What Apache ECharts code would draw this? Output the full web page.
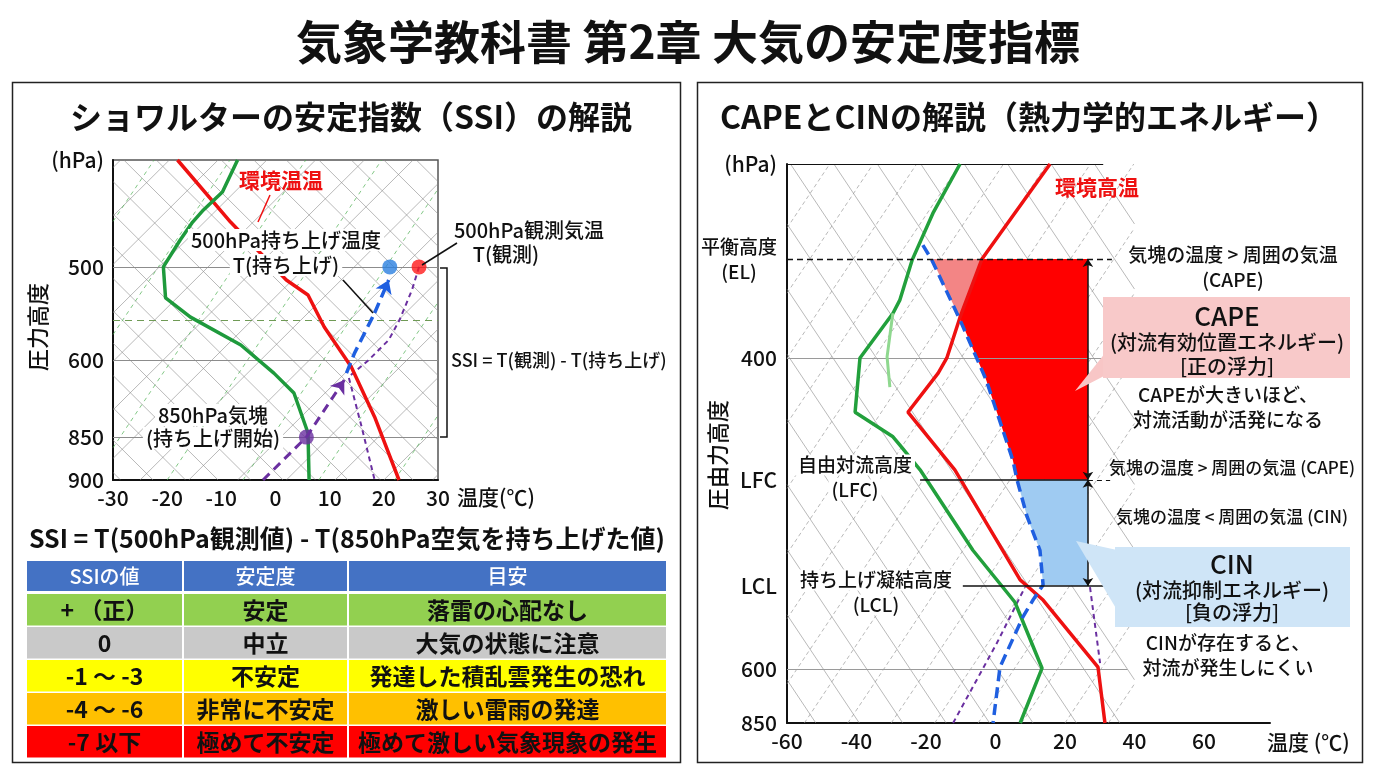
<!DOCTYPE html>
<html>
<head>
<meta charset="utf-8">
<title>大気の安定度指標</title>
<script src="https://cdn.jsdelivr.net/npm/echarts@6.0.0/dist/echarts.min.js"></script>
<style>
  html, body { margin: 0; padding: 0; background: #fff; }
  #chart { width: 1376px; height: 768px; }
</style>
</head>
<body>
<div id="chart"></div>
<script>
  const FONT = '"Noto Sans CJK JP", "Noto Sans", sans-serif';

  // ---- 左: SSI ダイアグラム (高さ = 0:900hPa 〜 1:上端) ----
  const ssiLevelTicks = [0, 0.134, 0.375, 0.666, 1];
  const ssiLevelLabels = ['900', '850', '600', '500', '(hPa)'];
  const ssiRefLevels = [0.666, 0.375, 0.134];
  const ssiLclLevel = 0.5;

  const ssiEnvT = [-18.1, -8.3, 2.0, 6.0, 9.0, 14.0, 18.3, 22.8];
  const ssiEnvL = [1.0, 0.806, 0.625, 0.578, 0.478, 0.353, 0.197, 0.0];
  const ssiDewT = [-7.0, -9.8, -13.3, -15.3, -17.6, -20.7, -20.3, -15.7, -6.4, -0.3, 3.4, 6.0, 6.2];
  const ssiDewL = [1.0, 0.9, 0.844, 0.806, 0.75, 0.666, 0.569, 0.509, 0.422, 0.334, 0.272, 0.147, 0.0];
  const ssiMoistT = [13.1, 14.6, 18.3, 20.9];
  const ssiMoistL = [0.334, 0.397, 0.522, 0.625];
  const ssiDryT = [-2.3, 5.7, 12.7];
  const ssiDryL = [0.0, 0.134, 0.3125];
  const ssiGuideT = [26.5, 25.2, 22.9, 20.9, 17.2, 13.5, 14.0, 15.9, 18.3];
  const ssiGuideL = [0.666, 0.594, 0.5, 0.4375, 0.375, 0.322, 0.29, 0.166, 0.0];
  const ssiPointT = [21.1, 26.5, 5.7];
  const ssiPointL = [0.666, 0.666, 0.134];

  // 背景の斜線 (始点の温度)
  const ssiDiagDown = [-88, -82, -76, -70, -64, -58, -52, -46, -40, -34, -28, -22, -16, -10, -4, 2, 8, 14, 20, 26];
  const ssiDiagUp = [-88, -79, -70, -61, -52, -43, -34, -25, -16, -7, 2, 11, 20, 29];
  const ssiMixUp = [-62, -48, -34, -20, -6, 8, 22];

  // ---- 右: CAPE / CIN ダイアグラム (0:850hPa 〜 1:上端) ----
  const capeLevelTicks = [0, 0.097, 0.245, 0.435, 0.653, 0.830, 1];
  const capeLevelLabels = ['850', '600', 'LCL', 'LFC', '400', '平衡高度\n(EL)', '(hPa)'];
  const capeRefLevels = [0.653, 0.097];
  const capeEL = 0.830, capeLFC = 0.435, capeLCL = 0.245;
  const capeEdgeT = 26.6;

  const capeEnvT = [15.7, -3.9, -10.2, -14.0, -16.5, -25.2, -11.7, 7.1, 13.7, 29.5, 31.5];
  const capeEnvL = [1.0, 0.830, 0.726, 0.653, 0.626, 0.556, 0.453, 0.256, 0.220, 0.100, 0.0];
  const capeDewT = [-10.2, -18.0, -24.0, -27.5, -29.5, -39.0, -40.4, -29.5, -27.5, -21.7, -6.5, 5.6, 13.4, 7.1];
  const capeDewL = [1.0, 0.912, 0.828, 0.757, 0.733, 0.653, 0.556, 0.512, 0.497, 0.453, 0.309, 0.216, 0.098, 0.0];
  const capeDew2T = [-29.5, -29.8, -31.2, -30.4];
  const capeDew2L = [0.733, 0.721, 0.655, 0.601];
  const capeParT = [-20.9, -18.3, -10.2, -2.7, 5.0, 6.2, 9.1, 12.8, 13.7, 10.8, 7.9, 1.3, -0.7];
  const capeParL = [0.855, 0.828, 0.721, 0.614, 0.470, 0.435, 0.369, 0.309, 0.247, 0.220, 0.190, 0.100, 0.0];
  const capeDryT = [-12.2, 0.4, 8.5];
  const capeDryL = [0.0, 0.143, 0.243];
  const capeGuideT = [27.2, 30.1];
  const capeGuideL = [0.243, 0.107];

  const capeFillT = [-3.9, 26.6, 26.6, 6.2, 5.0, -2.7, -10.2];
  const capeFillL = [0.830, 0.830, 0.435, 0.435, 0.470, 0.614, 0.723];
  const capeTriT = [-18.3, -3.9, -10.2];
  const capeTriL = [0.830, 0.830, 0.723];
  const cinFillT = [6.2, 26.6, 26.6, 13.7, 12.8, 9.1];
  const cinFillL = [0.435, 0.435, 0.245, 0.247, 0.309, 0.369];

  const capeDiagDown = [-159, -146.5, -134, -121.5, -109, -96.5, -84, -71.5, -59, -46.5, -34, -21.5, -9, 3.5, 16, 28.5];
  const capeDiagUp = [-167.5, -155, -142.5, -130, -117.5, -105, -92.5, -80, -67.5, -55, -42.5, -30, -17.5, -5, 7.5, 20, 32.5];

  // ---- 表 ----
  const tableHead = ['SSIの値', '安定度', '目安'];
  const tableRows = [
    ['+ （正）', '安定', '落雷の心配なし'],
    ['0', '中立', '大気の状態に注意'],
    ['-1 ～ -3', '不安定', '発達した積乱雲発生の恐れ'],
    ['-4 ～ -6', '非常に不安定', '激しい雷雨の発達'],
    ['-7 以下', '極めて不安定', '極めて激しい気象現象の発生']
  ];
  const rowColors = ['#92d050', '#c9c9c9', '#ffff00', '#ffc000', '#ff0000'];

  const pairs = (xs, ys) => xs.map((x, i) => [x, ys[i]]);
  const S0 = {xAxisIndex: 0, yAxisIndex: 0};
  const S1 = {xAxisIndex: 1, yAxisIndex: 1};

  function clipSeg(a, b, lo, hi) {
    let s0 = 0, s1 = 1;
    const dt = b[0] - a[0];
    let sa = (lo - a[0]) / dt, sb = (hi - a[0]) / dt;
    if (sa > sb) { const t = sa; sa = sb; sb = t; }
    s0 = Math.max(s0, sa); s1 = Math.min(s1, sb);
    if (s0 >= s1) return null;
    const p = s => [a[0] + dt * s, a[1] + (b[1] - a[1]) * s];
    return [p(s0), p(s1)];
  }

  function diagLines(starts, span, down, lo, hi, style, ax) {
    const data = [];
    starts.forEach(t0 => {
      const seg = down ? clipSeg([t0, 1], [t0 + span, 0], lo, hi) : clipSeg([t0, 0], [t0 + span, 1], lo, hi);
      if (seg) data.push({coords: seg});
    });
    return Object.assign({type: 'lines', coordinateSystem: 'cartesian2d', silent: true, z: 1,
      lineStyle: Object.assign({opacity: 1, curveness: 0}, style), data: data}, ax);
  }

  function segs(list, style, ax, extra) {
    return Object.assign({type: 'lines', coordinateSystem: 'cartesian2d', silent: true, z: 2,
      lineStyle: Object.assign({opacity: 1, curveness: 0}, style),
      data: list.map(c => ({coords: c}))}, extra || {}, ax);
  }

  function poly(pts, style, ax, z) {
    return Object.assign({type: 'lines', coordinateSystem: 'cartesian2d', polyline: true, silent: true, z: z || 3,
      lineStyle: Object.assign({opacity: 1}, style), data: [{coords: pts}]}, ax);
  }

  // 最後の区間だけ矢印付きで描く
  function arrowPath(pts, style, size, ax) {
    const n = pts.length;
    return [
      poly(pts.slice(0, n - 1), style, ax, 4),
      segs([[pts[n - 2], pts[n - 1]]], style, ax, {z: 4, symbol: ['none', 'arrow'], symbolSize: size})
    ];
  }

  function curve(xs, ys, color, width, dash, ax, z) {
    return Object.assign({type: 'line', data: pairs(xs, ys), showSymbol: false, symbol: 'none', silent: true,
      z: z || 3, lineStyle: {color: color, width: width, type: dash || 'solid'}}, ax);
  }

  function fill(xs, ys, color, ax) {
    const pts = pairs(xs, ys);
    return Object.assign({type: 'custom', silent: true, z: 1, data: [[xs[0], ys[0]]],
      renderItem: (params, api) => ({
        type: 'polygon',
        shape: {points: pts.map(p => api.coord(p))},
        style: {fill: color}
      })}, ax);
  }

  function tickLabel(vals, labels) {
    return v => {
      let k = 0, d = Infinity;
      vals.forEach((x, i) => { if (Math.abs(x - v) < d) { d = Math.abs(x - v); k = i; } });
      return labels[k];
    };
  }

  function txt(x, y, text, size, o) {
    o = o || {};
    const st = {
      text: text, fontSize: size, fontFamily: FONT, fontWeight: o.w || 500, fill: o.c || '#111',
      align: o.a || 'center', verticalAlign: 'middle', textAlign: o.a || 'center', textVerticalAlign: 'middle'
    };
    if (o.bg) { st.backgroundColor = o.bg; st.padding = [1, 3]; }
    if (o.lh) st.lineHeight = o.lh;
    const el = {type: 'text', x: x, y: y, z: 20, silent: true, style: st};
    if (o.rot) el.rotation = o.rot;
    return el;
  }

  const axisText = {fontSize: 21, color: '#111', fontFamily: FONT, fontWeight: 500};
  const black2 = {show: true, onZero: false, lineStyle: {color: '#111', width: 2}};

  // ---- 表のグラフィック ----
  const colX = [26, 183, 348, 667];
  const tableEls = [];
  tableHead.forEach((h, j) => {
    tableEls.push({type: 'rect', z: 5, shape: {x: colX[j] + 1, y: 561, width: colX[j + 1] - colX[j] - 2, height: 30}, style: {fill: '#4472c4'}});
    tableEls.push(txt((colX[j] + colX[j + 1]) / 2, 576, h, 20, {c: '#fff'}));
  });
  tableRows.forEach((row, i) => {
    const y = 594 + i * 33;
    row.forEach((cell, j) => {
      tableEls.push({type: 'rect', z: 5, shape: {x: colX[j] + 1, y: y, width: colX[j + 1] - colX[j] - 2, height: 31.5}, style: {fill: rowColors[i]}});
      tableEls.push(txt((colX[j] + colX[j + 1]) / 2, y + 16, cell, 23, {w: 'bold'}));
    });
  });

  const lineEl = (x1, y1, x2, y2, color, w) => ({type: 'line', z: 20, silent: true, shape: {x1, y1, x2, y2}, style: {stroke: color, lineWidth: w}});

  const graphics = [
    txt(688, 42, '気象学教科書 第2章 大気の安定度指標', 46, {w: 'bold'}),
    {type: 'rect', z: 0, shape: {x: 12.5, y: 82.5, width: 668, height: 680}, style: {fill: 'none', stroke: '#222', lineWidth: 1.5}},
    {type: 'rect', z: 0, shape: {x: 697.5, y: 82.5, width: 665, height: 680}, style: {fill: 'none', stroke: '#222', lineWidth: 1.5}},
    txt(351, 117, 'ショワルターの安定指数（SSI）の解説', 32, {w: 'bold'}),
    txt(1029, 117, 'CAPEとCINの解説（熱力学的エネルギー）', 32, {w: 'bold'}),

    // 左の注記
    txt(281, 180, '環境温温', 21, {w: 'bold', c: '#ee1111'}),
    lineEl(270, 195, 258, 222, '#ee1111', 1.5),
    txt(286, 240, '500hPa持ち上げ温度', 20, {bg: '#fff'}),
    txt(286, 265, 'T(持ち上げ)', 20, {bg: '#fff'}),
    lineEl(343, 280, 373, 313, '#111', 1.5),
    txt(529, 230, '500hPa観測気温', 20),
    txt(506, 254, 'T(観測)', 20),
    lineEl(457, 243, 422, 265, '#111', 1.5),
    {type: 'polyline', z: 20, silent: true, shape: {points: [[440, 268], [447, 268], [447, 437], [440, 437]]}, style: {stroke: '#111', lineWidth: 1.5, fill: 'none'}},
    txt(451, 360, 'SSI = T(観測) - T(持ち上げ)', 18, {a: 'left'}),
    txt(213, 415, '850hPa気塊', 20, {bg: '#fff'}),
    txt(213, 438, '(持ち上げ開始)', 20, {bg: '#fff'}),
    txt(457, 497, '温度(℃)', 21, {a: 'left'}),
    txt(38, 327, '圧力高度', 22, {rot: Math.PI / 2}),
    txt(347, 538, 'SSI = T(500hPa観測値) - T(850hPa空気を持ち上げた値)', 25, {w: 'bold'}),

    // 右の注記
    txt(1097, 187, '環境高温', 21, {w: 'bold', c: '#ee1111'}),
    txt(855, 465, '自由対流高度', 19, {bg: '#fff'}),
    txt(855, 490, '(LFC)', 19, {bg: '#fff'}),
    txt(876, 580, '持ち上げ凝結高度', 19, {bg: '#fff'}),
    txt(876, 605, '(LCL)', 19, {bg: '#fff'}),
    txt(1233, 255, '気塊の温度 > 周囲の気温', 19),
    txt(1233, 280, '(CAPE)', 19),
    {type: 'polygon', z: 15, silent: true, shape: {points: [[1106, 352], [1106, 375], [1075, 391]]}, style: {fill: '#f8c6c6'}},
    {type: 'rect', z: 15, silent: true, shape: {x: 1103, y: 297, width: 247, height: 81}, style: {fill: '#f8c9c9'}},
    txt(1227, 316, 'CAPE', 26),
    txt(1227, 342, '(対流有効位置エネルギー)', 20),
    txt(1227, 366, '[正の浮力]', 20),
    txt(1228, 395, 'CAPEが大きいほど、', 19),
    txt(1228, 420, '対流活動が活発になる', 19),
    txt(1232, 468, '気塊の温度 > 周囲の気温 (CAPE)', 17),
    txt(1232, 517, '気塊の温度 < 周囲の気温 (CIN)', 17),
    {type: 'polygon', z: 15, silent: true, shape: {points: [[1117, 550], [1117, 610], [1076, 541]]}, style: {fill: '#cfe5f7'}},
    {type: 'rect', z: 15, silent: true, shape: {x: 1115, y: 547, width: 235, height: 80}, style: {fill: '#cfe5f7'}},
    txt(1232, 564, 'CIN', 26),
    txt(1232, 590, '(対流抑制エネルギー)', 20),
    txt(1232, 612, '[負の浮力]', 20),
    txt(1228, 643, 'CINが存在すると、', 19, {bg: '#fff'}),
    txt(1228, 668, '対流が発生しにくい', 19, {bg: '#fff'}),
    txt(1267, 742, '温度 (℃)', 21, {a: 'left'}),
    txt(718, 455, '圧由力高度', 22, {rot: Math.PI / 2})
  ].concat(tableEls);

  const series = [
    // 左: 背景
    diagLines(ssiDiagDown, 59.4, true, -30, 30, {color: '#8a8a8a', width: 0.6}, S0),
    diagLines(ssiDiagUp, 59.4, false, -30, 30, {color: '#8a8a8a', width: 0.6}, S0),
    diagLines(ssiMixUp, 39.6, false, -30, 30, {color: '#4caf50', width: 0.7, type: [4, 4]}, S0),
    segs(ssiRefLevels.map(l => [[-30, l], [30, l]]), {color: '#8c8c8c', width: 1.2}, S0),
    segs([[[-30, ssiLclLevel], [30, ssiLclLevel]]], {color: '#6f9a55', width: 1.2, type: [7, 5]}, S0),
    // 左: 曲線
    curve(ssiEnvT, ssiEnvL, '#ee1111', 3.5, 'solid', S0),
    curve(ssiDewT, ssiDewL, '#1e9a3c', 3.5, 'solid', S0),
    poly(pairs(ssiGuideT, ssiGuideL), {color: '#6a2fa0', width: 2, type: [5, 4]}, S0, 3)
  ].concat(
    arrowPath(pairs(ssiDryT, ssiDryL), {color: '#6a2fa0', width: 3, type: [9, 6]}, 13, S0),
    arrowPath(pairs(ssiMoistT, ssiMoistL), {color: '#1f5fe0', width: 3.5, type: [11, 6]}, 13, S0),
    [
      Object.assign({type: 'scatter', silent: true, z: 6, symbolSize: 15,
        data: pairs(ssiPointT, ssiPointL).map((p, i) => ({value: p, itemStyle: {color: ['#2a7fe0', '#ff1a1a', '#6a2fa0'][i]}}))}, S0),

      // 右: 背景
      diagLines(capeDiagDown, 107.3, true, -60, 40, {color: '#8a8a8a', width: 0.6}, S1),
      diagLines(capeDiagUp, 107.3, false, -60, 40, {color: '#9a9a9a', width: 0.7, type: [4, 3]}, S1),
      segs(capeRefLevels.map(l => [[-60, l], [38, l]]), {color: '#9a9a9a', width: 1.2}, S1),
      segs([[[-60, 1], [31, 1]]], {color: '#111', width: 1.2}, S1),
      // 右: 塗り
      fill(capeFillT, capeFillL, '#ff0000', S1),
      fill(capeTriT, capeTriL, '#f38585', S1),
      fill(cinFillT, cinFillL, '#9fcbf2', S1),
      // 右: 曲線
      curve(capeEnvT, capeEnvL, '#ee1111', 3.5, 'solid', S1),
      curve(capeDewT, capeDewL, '#22a03c', 3.5, 'solid', S1),
      curve(capeDew2T, capeDew2L, '#8fd88f', 3, 'solid', S1),
      curve(capeParT, capeParL, '#1f5fe0', 3.5, [11, 6], S1, 4),
      poly(pairs(capeDryT, capeDryL), {color: '#6a2fa0', width: 2, type: [5, 4]}, S1, 3),
      poly(pairs(capeGuideT, capeGuideL), {color: '#6a2fa0', width: 2, type: [5, 4]}, S1, 3),
      // 右: 高度の線と矢印
      segs([[[-60, capeEL], [33.5, capeEL]]], {color: '#111', width: 1.3, type: [6, 4]}, S1, {z: 5}),
      segs([[[-21.7, capeLFC], [capeEdgeT, capeLFC]], [[-9.4, capeLCL], [31.5, capeLCL]]], {color: '#111', width: 1.5}, S1, {z: 5}),
      segs([[[capeEdgeT, capeLFC], [33, capeLFC]]], {color: '#111', width: 1.2, type: [5, 4]}, S1, {z: 5}),
      segs([[[capeEdgeT, capeEL], [capeEdgeT, capeLFC]], [[capeEdgeT, capeLFC], [capeEdgeT, capeLCL]]],
        {color: '#111', width: 1.5}, S1, {z: 5, symbol: ['arrow', 'arrow'], symbolSize: 8})
    ]
  );

  const chart = echarts.init(document.getElementById('chart'));
  chart.setOption({
    animation: false,
    backgroundColor: '#fff',
    grid: [
      {left: 113, top: 160, width: 325, height: 320, show: true, borderColor: '#555', borderWidth: 1.5},
      {left: 787, top: 164, width: 483, height: 559}
    ],
    xAxis: [
      {gridIndex: 0, type: 'value', min: -30, max: 30, interval: 10, axisLine: black2, axisTick: {show: false},
        splitLine: {show: false}, axisLabel: Object.assign({margin: 8}, axisText)},
      {gridIndex: 1, type: 'value', min: -60, max: 79, interval: 20, axisLine: black2, axisTick: {show: false},
        splitLine: {show: false}, axisLabel: Object.assign({margin: 8, showMaxLabel: false}, axisText)}
    ],
    yAxis: [
      {gridIndex: 0, type: 'value', min: 0, max: 1, axisLine: black2, axisTick: {show: false}, splitLine: {show: false},
        axisLabel: Object.assign({margin: 9, customValues: ssiLevelTicks, formatter: tickLabel(ssiLevelTicks, ssiLevelLabels)}, axisText)},
      {gridIndex: 1, type: 'value', min: 0, max: 1, axisLine: black2, axisTick: {show: false}, splitLine: {show: false},
        axisLabel: Object.assign({
          margin: 10, customValues: capeLevelTicks,
          formatter: v => {
            const s = tickLabel(capeLevelTicks, capeLevelLabels)(v);
            return s.indexOf('\n') >= 0 ? s.split('\n').map(p => '{s|' + p + '}').join('\n') : s;
          },
          rich: {s: {fontSize: 19, lineHeight: 25, fontFamily: FONT, fontWeight: 500, color: '#111', align: 'center'}}
        }, axisText)}
    ],
    graphic: {elements: graphics},
    series: series
  });
</script>
</body>
</html>
